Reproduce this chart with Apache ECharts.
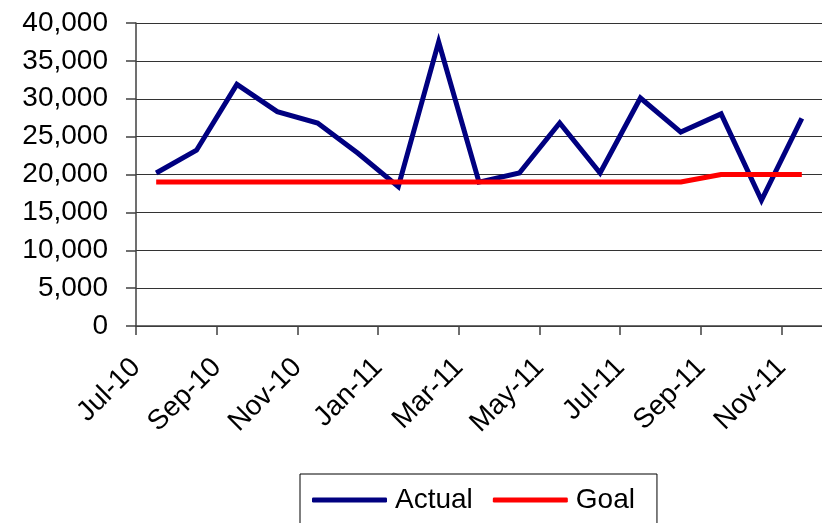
<!DOCTYPE html>
<html>
<head>
<meta charset="utf-8">
<script src="https://cdn.jsdelivr.net/npm/echarts@6/dist/echarts.min.js"></script>
<style>
html,body{margin:0;padding:0;background:#fff;}
#chart{width:822px;height:523px;}
</style>
</head>
<body>
<div id="chart"></div>
<script>
// Months (one point per month, Jul-10 .. Nov-11)
const months = ['Jul-10','Aug-10','Sep-10','Oct-10','Nov-10','Dec-10','Jan-11','Feb-11','Mar-11','Apr-11','May-11','Jun-11','Jul-11','Aug-11','Sep-11','Oct-11','Nov-11'];
const actual = [20200, 23200, 31900, 28300, 26800, 22800, 18400, 37500, 19000, 20200, 26800, 20200, 30100, 25600, 28000, 16600, 27400];
const goal   = [19000, 19000, 19000, 19000, 19000, 19000, 19000, 19000, 19000, 19000, 19000, 19000, 19000, 19000, 20000, 20000, 20000];
const yTicks = [0, 5000, 10000, 15000, 20000, 25000, 30000, 35000, 40000];

const FONT = 'Liberation Sans, Arial, sans-serif';
const toPts = arr => arr.map((v, i) => [i + 0.5, v]);

const chart = echarts.init(document.getElementById('chart'), null, {renderer: 'canvas'});
chart.setOption({
  animation: false,
  backgroundColor: '#ffffff',
  grid: {left: 136, top: 23, width: 688, height: 303, containLabel: false},
  legend: {
    left: 300, top: 474,
    data: [
      {name: 'Actual', icon: 'roundRect', itemStyle: {color: '#000080'}},
      {name: 'Goal', icon: 'roundRect', itemStyle: {color: '#ff0000'}}
    ],
    itemWidth: 75, itemHeight: 5, itemGap: 20,
    borderColor: '#000', borderWidth: 1,
    padding: [12, 22, 10, 12],
    textStyle: {fontFamily: FONT, fontSize: 28, color: '#000', padding: [0, 0, 0, 3]}
  },
  xAxis: {
    type: 'value', min: 0, max: 17, interval: 2,
    splitLine: {show: false},
    axisLine: {show: true, lineStyle: {color: '#404040', width: 1.5}},
    axisTick: {show: true, length: 9, lineStyle: {color: '#404040', width: 1.5}},
    axisLabel: {
      rotate: 45, margin: 37, fontFamily: FONT, fontSize: 28, color: '#000',
      showMaxLabel: false,
      formatter: v => (Number.isInteger(v) && v % 2 === 0 && v < months.length) ? months[v] : ''
    }
  },
  yAxis: {
    type: 'value', min: yTicks[0], max: yTicks[yTicks.length - 1], interval: 5000,
    axisLine: {show: true, lineStyle: {color: '#404040', width: 1.5}},
    axisTick: {show: true, length: 10, lineStyle: {color: '#404040', width: 1.5}},
    splitLine: {show: true, lineStyle: {color: '#333', width: 1}},
    axisLabel: {
      margin: 28, fontFamily: FONT, fontSize: 28, color: '#000',
      formatter: v => v.toLocaleString('en-US')
    }
  },
  series: [
    {
      name: 'Actual', type: 'line', data: toPts(actual),
      showSymbol: false, symbol: 'none',
      lineStyle: {color: '#000080', width: 5, join: 'miter'},
      itemStyle: {color: '#000080'}
    },
    {
      name: 'Goal', type: 'line', data: toPts(goal),
      showSymbol: false, symbol: 'none',
      lineStyle: {color: '#ff0000', width: 5},
      itemStyle: {color: '#ff0000'}
    }
  ]
});
</script>
</body>
</html>
